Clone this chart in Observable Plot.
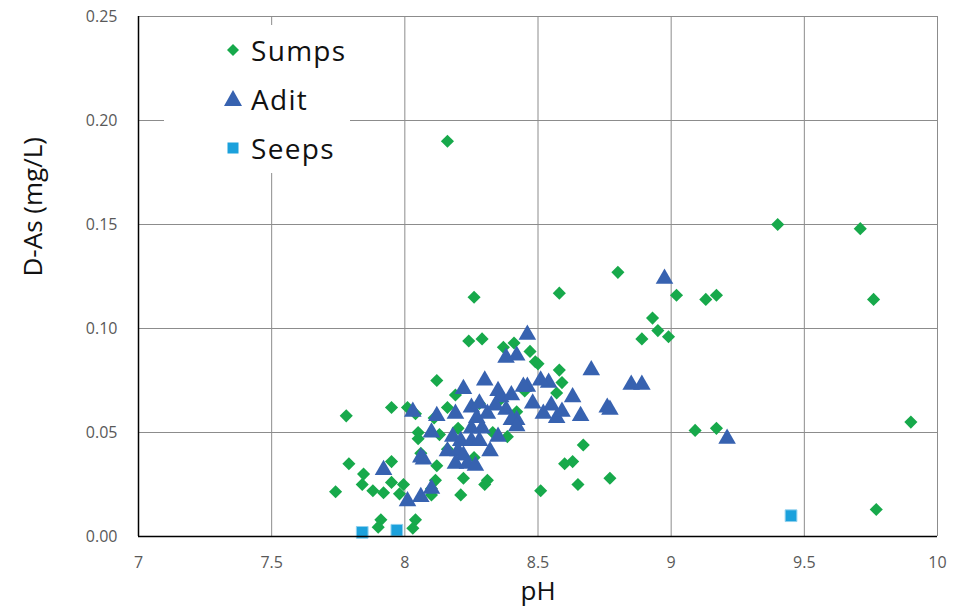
<!DOCTYPE html>
<html>
<head>
<meta charset="utf-8">
<script src="https://cdn.jsdelivr.net/npm/d3@7"></script>
<script src="https://cdn.jsdelivr.net/npm/@observablehq/plot@0.6"></script>
<style>
  html, body { margin: 0; padding: 0; background: #fff; }
  #wrap { position: relative; width: 962px; height: 612px; font-family: "Open Sans", "Noto Sans", sans-serif; }
  #legend { position: absolute; left: 164px; top: 25px; width: 186px; height: 148px; background: #fff; }
  .item { position: absolute; left: 0; height: 30px; display: flex; align-items: center; font-size: 28px; letter-spacing: 1.3px; color: #111; }
  .item svg { margin-left: 59px; margin-right: 8px; }
</style>
</head>
<body>
<div id="wrap"></div>
<script>
// ---- data ----
const sumpsPH = [8.16, 9.40, 9.71, 9.76, 9.90, 9.77, 8.80, 8.58, 8.26, 9.02, 9.13, 9.17, 8.93, 8.95, 8.89, 8.99, 9.09, 9.17, 8.77, 8.67, 8.63, 8.60, 8.65, 8.51, 8.58, 8.59, 8.57, 8.29, 8.24, 8.37, 8.41, 8.47, 8.49, 8.50, 8.12, 7.78, 7.95, 8.01, 8.04, 8.16, 8.19, 8.05, 8.05, 8.06, 8.11, 7.79, 7.845, 7.84, 7.88, 7.92, 7.95, 7.95, 7.995, 7.98, 7.74, 7.91, 7.90, 8.04, 8.03, 8.12, 8.115, 8.10, 8.10, 8.22, 8.21, 8.30, 8.31, 8.385, 8.36, 8.45, 8.28, 8.20, 8.16, 8.26, 8.33, 8.42, 8.13];
const sumpsAs = [0.190, 0.150, 0.148, 0.114, 0.055, 0.013, 0.127, 0.117, 0.115, 0.116, 0.114, 0.116, 0.105, 0.099, 0.095, 0.096, 0.051, 0.052, 0.028, 0.044, 0.036, 0.035, 0.025, 0.022, 0.080, 0.074, 0.069, 0.095, 0.094, 0.091, 0.093, 0.089, 0.084, 0.083, 0.075, 0.058, 0.062, 0.062, 0.059, 0.062, 0.068, 0.050, 0.047, 0.040, 0.057, 0.035, 0.030, 0.025, 0.022, 0.021, 0.036, 0.026, 0.025, 0.0205, 0.0215, 0.008, 0.0045, 0.008, 0.004, 0.034, 0.027, 0.023, 0.020, 0.028, 0.020, 0.025, 0.027, 0.048, 0.066, 0.070, 0.064, 0.052, 0.042, 0.038, 0.050, 0.060, 0.049];

const aditPH = [8.975, 9.21, 8.85, 8.89, 8.70, 8.76, 8.77, 8.63, 8.66, 8.46, 8.38, 8.42, 8.54, 8.51, 8.55, 8.48, 8.46, 8.57, 8.59, 8.52, 8.42, 8.30, 8.22, 8.35, 8.36, 8.445, 8.40, 8.19, 8.25, 8.28, 8.31, 8.38, 8.40, 8.42, 8.25, 8.29, 8.35, 8.12, 8.10, 8.18, 8.21, 8.25, 8.28, 8.16, 8.20, 8.22, 8.19, 8.235, 8.265, 8.07, 8.06, 8.03, 7.92, 8.01, 8.06, 8.10, 8.32, 8.34, 8.27];
const aditAs = [0.124, 0.047, 0.073, 0.073, 0.080, 0.062, 0.061, 0.067, 0.058, 0.097, 0.086, 0.087, 0.074, 0.075, 0.063, 0.064, 0.072, 0.057, 0.060, 0.059, 0.056, 0.075, 0.071, 0.070, 0.067, 0.072, 0.068, 0.059, 0.062, 0.064, 0.059, 0.061, 0.056, 0.053, 0.052, 0.052, 0.048, 0.058, 0.050, 0.048, 0.046, 0.046, 0.046, 0.041, 0.041, 0.039, 0.035, 0.035, 0.034, 0.037, 0.038, 0.060, 0.032, 0.017, 0.019, 0.023, 0.041, 0.063, 0.057];

const seepsPH = [7.84, 7.97, 9.45];
const seepsAs = [0.002, 0.003, 0.010];

const seriesNames = ["Sumps", "Adit", "Seeps"];
const xTicks = [7, 7.5, 8, 8.5, 9, 9.5, 10];
const yTicks = [0, 0.05, 0.10, 0.15, 0.20, 0.25];
const xLabel = "pH";
const yLabel = "D-As (mg/L)";

const colors = { Sumps: "#17a94b", Adit: "#3762b0", Seeps: "#1ba1dc" };

const toRows = (xs, ys) => xs.map((x, i) => ({ pH: x, as: ys[i] }));
const sumps = toRows(sumpsPH, sumpsAs);
const adit = toRows(aditPH, aditAs);
const seeps = toRows(seepsPH, seepsAs);

const chart = Plot.plot({
  width: 962,
  height: 612,
  marginLeft: 138,
  marginRight: 25,
  marginTop: 16,
  marginBottom: 76,
  style: { fontFamily: "'Open Sans', 'Noto Sans', sans-serif", background: "transparent" },
  x: { domain: [7, 10] },
  y: { domain: [0, 0.25] },
  marks: [
    Plot.gridX(xTicks, { stroke: "#8c8c8c", strokeOpacity: 1, strokeWidth: 1 }),
    Plot.gridY(yTicks, { stroke: "#8c8c8c", strokeOpacity: 1, strokeWidth: 1 }),
    Plot.dot(sumps, { x: "pH", y: "as", symbol: "diamond2", r: 5.9, fill: colors.Sumps, stroke: "none" }),
    Plot.dot(adit, { x: "pH", y: "as", symbol: "triangle2", r: 8.4, fill: colors.Adit, stroke: "none" }),
    Plot.dot(seeps, { x: "pH", y: "as", symbol: "square", r: 6.6, fill: colors.Seeps, stroke: "#8fd0ee", strokeWidth: 1 }),
    Plot.ruleX([7], { stroke: "#000", strokeWidth: 1.5 }),
    Plot.ruleY([0], { stroke: "#000", strokeWidth: 1.5 }),
    Plot.axisX(xTicks, { tickSize: 0, tickPadding: 20, fontSize: 16, fill: "#595959", label: null, tickFormat: d => String(d) }),
    Plot.axisY(yTicks, { tickSize: 0, tickPadding: 21, fontSize: 16, fill: "#595959", label: null, tickFormat: d3.format(".2f") }),
    Plot.text([xLabel], { frameAnchor: "bottom", dy: 63, fontSize: 26, fill: "#111" }),
    Plot.text([yLabel], { frameAnchor: "left", rotate: -90, dx: -105, fontSize: 26, fill: "#111" })
  ]
});

const wrap = document.getElementById("wrap");
wrap.appendChild(chart);

// legend overlay
const legend = document.createElement("div");
legend.id = "legend";
const symbols = {
  Sumps: `<svg width="20" height="20" viewBox="-10 -10 20 20"><path d="M0,-6L6,0L0,6L-6,0Z" fill="${colors.Sumps}"/></svg>`,
  Adit: `<svg width="20" height="20" viewBox="-10 -10 20 20"><path d="M0,-9L9,7L-9,7Z" fill="${colors.Adit}"/></svg>`,
  Seeps: `<svg width="20" height="20" viewBox="-10 -10 20 20"><rect x="-5.5" y="-5.5" width="11" height="11" fill="${colors.Seeps}"/></svg>`
};
const tops = [10, 59, 108];
seriesNames.forEach((name, i) => {
  const item = document.createElement("div");
  item.className = "item";
  item.style.top = tops[i] + "px";
  item.innerHTML = symbols[name] + `<span>${name}</span>`;
  legend.appendChild(item);
});
wrap.appendChild(legend);
</script>
</body>
</html>
